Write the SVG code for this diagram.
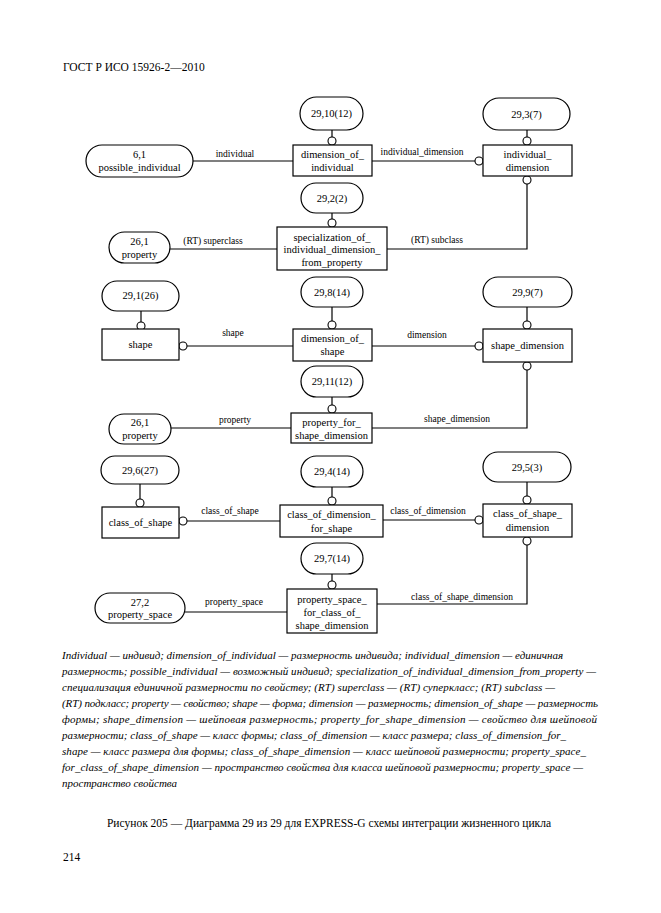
<svg xmlns="http://www.w3.org/2000/svg" width="661" height="913" viewBox="0 0 661 913">
<style>
.bg{fill:#fff}
.box{fill:#fff;stroke:#000;stroke-width:1.2}
.ln{fill:none;stroke:#000;stroke-width:1.2}
.c{fill:#fff;stroke:#000;stroke-width:1.1}
.t{font-family:"Liberation Serif","Times New Roman",serif;font-size:10.5px;fill:#000;text-anchor:middle}
.l{font-family:"Liberation Serif","Times New Roman",serif;font-size:9.5px;fill:#000;text-anchor:middle}
.cap{font-family:"Liberation Serif","Times New Roman",serif;font-size:11px;font-style:italic;fill:#000}
.hd{font-family:"Liberation Serif","Times New Roman",serif;font-size:11.5px;fill:#000}
</style>
<rect class="bg" x="0" y="0" width="661" height="913"/>
<text class="hd" x="63" y="71">ГОСТ Р ИСО 15926-2—2010</text>

<g id="connectors">
  <line class="ln" x1="332" y1="130" x2="332" y2="137"/>
  <circle class="c" cx="332" cy="141" r="4"/>
  <line class="ln" x1="193" y1="161" x2="293" y2="161"/>
  <text class="l" x="235" y="157">individual</text>
  <line class="ln" x1="372" y1="161" x2="475" y2="161"/>
  <circle class="c" cx="479" cy="161" r="4"/>
  <text class="l" x="422" y="155">individual_dimension</text>
  <line class="ln" x1="527" y1="130" x2="527" y2="137"/>
  <circle class="c" cx="527" cy="141" r="4"/>
  <line class="ln" x1="332" y1="213" x2="332" y2="219"/>
  <circle class="c" cx="332" cy="223" r="4"/>
  <line class="ln" x1="170" y1="249" x2="277" y2="249"/>
  <text class="l" x="213" y="244">(RT) superclass</text>
  <polyline class="ln" points="387,249 527,249 527,184"/>
  <circle class="c" cx="527" cy="180" r="4"/>
  <text class="l" x="437" y="243">(RT) subclass</text>
  <line class="ln" x1="141" y1="311" x2="141" y2="322"/>
  <circle class="c" cx="141" cy="326" r="4"/>
  <line class="ln" x1="187" y1="346" x2="293" y2="346"/>
  <circle class="c" cx="183" cy="346" r="4"/>
  <text class="l" x="233" y="336">shape</text>
  <line class="ln" x1="332" y1="307" x2="332" y2="321"/>
  <circle class="c" cx="332" cy="325" r="4"/>
  <line class="ln" x1="527" y1="307" x2="527" y2="321"/>
  <circle class="c" cx="527" cy="325" r="4"/>
  <line class="ln" x1="372" y1="346" x2="475" y2="346"/>
  <circle class="c" cx="479" cy="346" r="4"/>
  <text class="l" x="427" y="338">dimension</text>
  <line class="ln" x1="332" y1="397" x2="332" y2="405"/>
  <circle class="c" cx="332" cy="409" r="4"/>
  <line class="ln" x1="171" y1="428" x2="291" y2="428"/>
  <text class="l" x="235" y="423">property</text>
  <polyline class="ln" points="372,428 527,428 527,370"/>
  <circle class="c" cx="527" cy="366" r="4"/>
  <text class="l" x="457" y="422">shape_dimension</text>
  <line class="ln" x1="140" y1="484" x2="140" y2="499"/>
  <circle class="c" cx="140" cy="503" r="4"/>
  <line class="ln" x1="187" y1="521" x2="280" y2="521"/>
  <circle class="c" cx="183" cy="521" r="4"/>
  <text class="l" x="230" y="514">class_of_shape</text>
  <line class="ln" x1="332" y1="487" x2="332" y2="497"/>
  <circle class="c" cx="332" cy="501" r="4"/>
  <line class="ln" x1="527" y1="482" x2="527" y2="496"/>
  <circle class="c" cx="527" cy="500" r="4"/>
  <line class="ln" x1="383" y1="520" x2="475" y2="520"/>
  <circle class="c" cx="479" cy="520" r="4"/>
  <text class="l" x="428" y="514">class_of_dimension</text>
  <line class="ln" x1="332" y1="574" x2="332" y2="581"/>
  <circle class="c" cx="332" cy="585" r="4"/>
  <line class="ln" x1="185" y1="612" x2="287" y2="612"/>
  <text class="l" x="234" y="605">property_space</text>
  <polyline class="ln" points="377,604 527,604 527,545"/>
  <circle class="c" cx="527" cy="541" r="4"/>
  <text class="l" x="462" y="600">class_of_shape_dimension</text>
</g>

<g id="n_29_10_12"><rect class="box" x="300" y="97" width="63" height="33" rx="16.5"/><text class="t" x="331.5" y="117">29,10(12)</text></g>
<g id="n_dimension_of_individual"><rect class="box" x="293" y="145" width="79" height="31"/><text class="t" x="332.5" y="158">dimension_of_</text><text class="t" x="332.5" y="171">individual</text></g>
<g id="n_6_1"><rect class="box" x="86" y="145" width="107" height="32" rx="16"/><text class="t" x="139.5" y="158">6,1</text><text class="t" x="139.5" y="171">possible_individual</text></g>
<g id="n_29_3_7"><rect class="box" x="483" y="98" width="87" height="32" rx="16"/><text class="t" x="526.5" y="118">29,3(7)</text></g>
<g id="n_individual_dimension"><rect class="box" x="483" y="145" width="89" height="31"/><text class="t" x="527.5" y="158">individual_</text><text class="t" x="527.5" y="171">dimension</text></g>
<g id="n_29_2_2"><rect class="box" x="301" y="183" width="62" height="30" rx="15"/><text class="t" x="332" y="202">29,2(2)</text></g>
<g id="n_specialization"><rect class="box" x="277" y="227" width="110" height="43"/><text class="t" x="332" y="241">specialization_of_</text><text class="t" x="332" y="253">individual_dimension_</text><text class="t" x="332" y="266">from_property</text></g>
<g id="n_26_1_a"><rect class="box" x="109" y="232" width="61" height="31" rx="15.5"/><text class="t" x="139.5" y="245">26,1</text><text class="t" x="139.5" y="258">property</text></g>

<g id="n_29_1_26"><rect class="box" x="102" y="281" width="77" height="30" rx="15"/><text class="t" x="140.5" y="299">29,1(26)</text></g>
<g id="n_shape"><rect class="box" x="102" y="329" width="77" height="31"/><text class="t" x="140.5" y="348">shape</text></g>
<g id="n_29_8_14"><rect class="box" x="301" y="277" width="62" height="30" rx="15"/><text class="t" x="332" y="296">29,8(14)</text></g>
<g id="n_dimension_of_shape"><rect class="box" x="293" y="329" width="79" height="32"/><text class="t" x="332.5" y="342">dimension_of_</text><text class="t" x="332.5" y="355">shape</text></g>
<g id="n_29_9_7"><rect class="box" x="483" y="277" width="89" height="30" rx="15"/><text class="t" x="527.5" y="296">29,9(7)</text></g>
<g id="n_shape_dimension"><rect class="box" x="483" y="329" width="89" height="33"/><text class="t" x="527.5" y="349">shape_dimension</text></g>
<g id="n_29_11_12"><rect class="box" x="301" y="366" width="62" height="31" rx="15.5"/><text class="t" x="332" y="385">29,11(12)</text></g>
<g id="n_property_for_shape_dimension"><rect class="box" x="291" y="413" width="81" height="30"/><text class="t" x="331.5" y="426">property_for_</text><text class="t" x="331.5" y="439">shape_dimension</text></g>
<g id="n_26_1_b"><rect class="box" x="109" y="414" width="62" height="30" rx="15"/><text class="t" x="140" y="426">26,1</text><text class="t" x="140" y="439">property</text></g>

<g id="n_29_6_27"><rect class="box" x="101" y="456" width="78" height="28" rx="14"/><text class="t" x="140" y="474">29,6(27)</text></g>
<g id="n_class_of_shape"><rect class="box" x="102" y="507" width="77" height="31"/><text class="t" x="140.5" y="526">class_of_shape</text></g>
<g id="n_29_4_14"><rect class="box" x="301" y="456" width="62" height="31" rx="15.5"/><text class="t" x="332" y="475">29,4(14)</text></g>
<g id="n_class_of_dimension_for_shape"><rect class="box" x="280" y="505" width="103" height="32"/><text class="t" x="331.5" y="518">class_of_dimension_</text><text class="t" x="331.5" y="532">for_shape</text></g>
<g id="n_29_5_3"><rect class="box" x="483" y="452" width="88" height="30" rx="15"/><text class="t" x="527" y="471">29,5(3)</text></g>
<g id="n_class_of_shape_dimension"><rect class="box" x="483" y="504" width="89" height="33"/><text class="t" x="527.5" y="517">class_of_shape_</text><text class="t" x="527.5" y="531">dimension</text></g>
<g id="n_29_7_14"><rect class="box" x="301" y="543" width="62" height="31" rx="15.5"/><text class="t" x="332" y="562">29,7(14)</text></g>
<g id="n_property_space_for"><rect class="box" x="287" y="589" width="90" height="44"/><text class="t" x="332" y="603">property_space_</text><text class="t" x="332" y="616">for_class_of_</text><text class="t" x="332" y="629">shape_dimension</text></g>
<g id="n_27_2"><rect class="box" x="95" y="593" width="90" height="30" rx="15"/><text class="t" x="140" y="606">27,2</text><text class="t" x="140" y="618">property_space</text></g>

<g id="legend">
<text class="cap" x="62" y="659" textLength="501" lengthAdjust="spacing">Individual — индивид; dimension_of_individual — размерность индивида; individual_dimension — единичная</text>
<text class="cap" x="62" y="675" textLength="534" lengthAdjust="spacing">размерность; possible_individual — возможный индивид; specialization_of_individual_dimension_from_property —</text>
<text class="cap" x="62" y="691" textLength="493" lengthAdjust="spacing">специализация единичной размерности по свойству; (RT) superclass — (RT) суперкласс; (RT) subclass —</text>
<text class="cap" x="62" y="707" textLength="536" lengthAdjust="spacing">(RT) подкласс; property — свойство; shape — форма; dimension — размерность; dimension_of_shape — размерность</text>
<text class="cap" x="62" y="723" textLength="535" lengthAdjust="spacing">формы; shape_dimension — шейповая размерность; property_for_shape_dimension — свойство для шейповой</text>
<text class="cap" x="62" y="739" textLength="504" lengthAdjust="spacing">размерности; class_of_shape — класс формы; class_of_dimension — класс размера; class_of_dimension_for_</text>
<text class="cap" x="62" y="755" textLength="524" lengthAdjust="spacing">shape — класс размера для формы; class_of_shape_dimension — класс шейповой размерности; property_space_</text>
<text class="cap" x="62" y="771" textLength="521" lengthAdjust="spacing">for_class_of_shape_dimension — пространство свойства для класса шейповой размерности; property_space —</text>
<text class="cap" x="62" y="787">пространство свойства</text>
</g>
<text class="hd" x="329" y="827" text-anchor="middle">Рисунок 205 — Диаграмма 29 из 29 для EXPRESS-G схемы интеграции жизненного цикла</text>
<text class="hd" x="63" y="861">214</text>
</svg>
